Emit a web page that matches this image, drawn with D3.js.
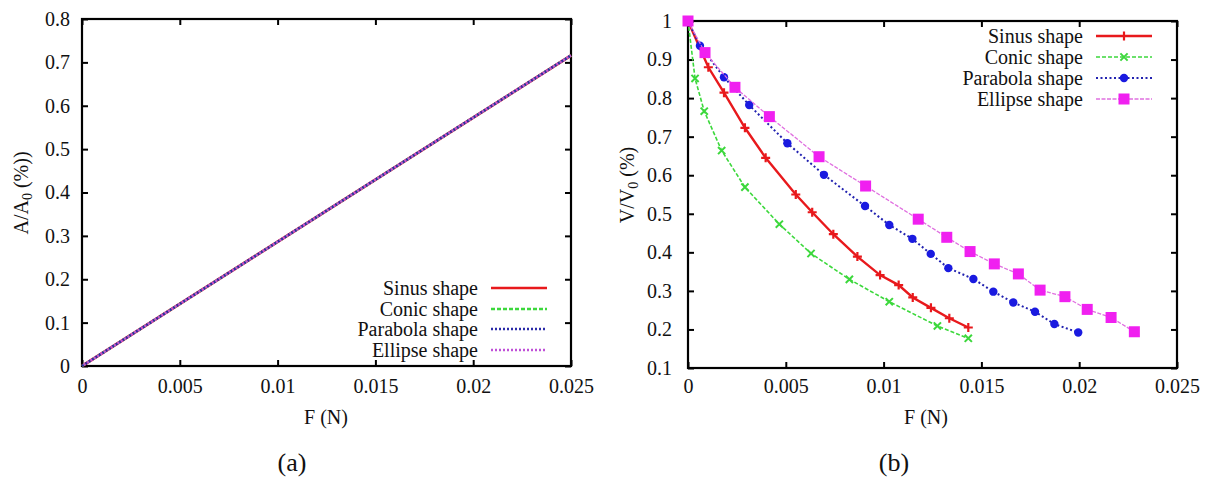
<!DOCTYPE html>
<html>
<head>
<meta charset="utf-8">
<script src="https://cdn.jsdelivr.net/npm/d3@7"></script>
<style>
  html, body { margin: 0; padding: 0; background: #fff; }
  svg, svg text { font-family: 'Liberation Serif', 'Times New Roman', Times, 'DejaVu Serif', serif !important; }
</style>
</head>
<body>
<svg id="fig" width="1205" height="489"></svg>
<script>
// ---- data ----------------------------------------------------------------
const seriesNames = ["Sinus shape", "Conic shape", "Parabola shape", "Ellipse shape"];

const forceTicks = [0, 0.005, 0.01, 0.015, 0.02, 0.025];
const forceTickLabels = ["0", "0.005", "0.01", "0.015", "0.02", "0.025"];

const areaTicks = [0, 0.1, 0.2, 0.3, 0.4, 0.5, 0.6, 0.7, 0.8];
const areaTickLabels = ["0", "0.1", "0.2", "0.3", "0.4", "0.5", "0.6", "0.7", "0.8"];

const volumeTicks = [0.1, 0.2, 0.3, 0.4, 0.5, 0.6, 0.7, 0.8, 0.9, 1.0];
const volumeTickLabels = ["0.1", "0.2", "0.3", "0.4", "0.5", "0.6", "0.7", "0.8", "0.9", "1"];

// (a) relative area A/A0 against force F: straight lines for all shapes
const areaForce  = [0, 0.025];
const areaSinus    = [0, 0.716];
const areaConic    = [0, 0.716];
const areaParabola = [0, 0.716];
const areaEllipse  = [0, 0.716];

// (b) relative volume V/V0 against force F
const sinusF = [0, 0.00104, 0.00184, 0.00291, 0.00397, 0.00551, 0.00635, 0.00743, 0.00866, 0.00982, 0.01077, 0.01149, 0.01242, 0.01336, 0.01433];
const sinusV = [1.0, 0.880, 0.814, 0.723, 0.645, 0.550, 0.504, 0.447, 0.389, 0.341, 0.315, 0.283, 0.256, 0.229, 0.205];

const conicF = [0, 0.00036, 0.00083, 0.00172, 0.00291, 0.00467, 0.00629, 0.00825, 0.01029, 0.01275, 0.01433];
const conicV = [1.0, 0.851, 0.766, 0.664, 0.569, 0.473, 0.397, 0.330, 0.272, 0.209, 0.177];

const parabolaF = [0, 0.00061, 0.00184, 0.00313, 0.00508, 0.00695, 0.00905, 0.01029, 0.01147, 0.01241, 0.01331, 0.01459, 0.01561, 0.01663, 0.01774, 0.01873, 0.01995];
const parabolaV = [1.0, 0.936, 0.854, 0.782, 0.683, 0.601, 0.520, 0.471, 0.435, 0.396, 0.359, 0.331, 0.298, 0.270, 0.246, 0.214, 0.192];

const ellipseF = [0, 0.00087, 0.0024, 0.00416, 0.0067, 0.00908, 0.01177, 0.01323, 0.01442, 0.01566, 0.01689, 0.018, 0.01927, 0.02041, 0.02163, 0.02282];
const ellipseV = [1.0, 0.918, 0.828, 0.752, 0.648, 0.572, 0.486, 0.439, 0.402, 0.370, 0.344, 0.302, 0.285, 0.252, 0.231, 0.194];

// ---- styles --------------------------------------------------------------
const styles = [
  { line: "#e8191c", width: 2.4, dash: null,      marker: "plus",   mcolor: "#e8191c" },
  { line: "#3cd83c", width: 1.6, dash: "4,2",     marker: "cross",  mcolor: "#3cd83c" },
  { line: "#2222b0", width: 2.0, dash: "2,2.5",   marker: "circle", mcolor: "#1a1ae0" },
  { line: "#e070e0", width: 1.3, dash: "4,1.5",   marker: "square", mcolor: "#f020f0" }
];
const leftStyles = [
  { line: "#e8191c", width: 3.0, dash: null },
  { line: "#3cd83c", width: 2.4, dash: "4,2" },
  { line: "#2a2aa8", width: 2.6, dash: "2,2" },
  { line: "#c050d8", width: 2.6, dash: "2,2", offset: 2 }
];

const svg = d3.select("#fig");
const FONT = 20;
const FAMILY = "'Liberation Serif', 'Times New Roman', Times, serif";

function zip(xs, ys) { return xs.map((x, i) => [x, ys[i]]); }

function frame(g, x, y, opts) {
  const [x0, x1] = x.range();
  const [y0, y1] = y.range();
  const tick = 6;

  const bottom = d3.axisBottom(x).tickValues(forceTicks)
    .tickFormat((d, i) => forceTickLabels[i])
    .tickSizeInner(-tick).tickSizeOuter(0).tickPadding(opts.xPad);
  const top = d3.axisTop(x).tickValues(forceTicks).tickFormat("")
    .tickSizeInner(-tick).tickSizeOuter(0);
  const left = d3.axisLeft(y).tickValues(opts.yTicks)
    .tickFormat((d, i) => opts.yLabels[i])
    .tickSizeInner(-tick).tickSizeOuter(0).tickPadding(opts.yPad);
  const right = d3.axisRight(y).tickValues(opts.yTicks).tickFormat("")
    .tickSizeInner(-tick).tickSizeOuter(0);

  const axes = [
    [bottom, `translate(0,${y0})`],
    [top, `translate(0,${y1})`],
    [left, `translate(${x0},0)`],
    [right, `translate(${x1},0)`]
  ];
  axes.forEach(([ax, tr]) => {
    const a = g.append("g").attr("transform", tr).call(ax)
      .attr("font-family", FAMILY).attr("font-size", FONT);
    a.select(".domain").remove();
    a.selectAll("line").attr("stroke", "#000").attr("stroke-width", 2);
    a.selectAll("text").attr("fill", "#111");
  });

  g.append("rect")
    .attr("x", x0).attr("y", y1)
    .attr("width", x1 - x0).attr("height", y0 - y1)
    .attr("fill", "none").attr("stroke", "#000").attr("stroke-width", 2.2);
}

function marker(g, kind, cx, cy, color) {
  if (kind === "plus") {
    const s = 4.5;
    g.append("path").attr("d", `M${cx - s},${cy}H${cx + s}M${cx},${cy - s}V${cy + s}`)
      .attr("stroke", color).attr("stroke-width", 2.2).attr("fill", "none");
  } else if (kind === "cross") {
    const s = 3.6;
    g.append("path").attr("d", `M${cx - s},${cy - s}L${cx + s},${cy + s}M${cx - s},${cy + s}L${cx + s},${cy - s}`)
      .attr("stroke", color).attr("stroke-width", 2).attr("fill", "none");
  } else if (kind === "circle") {
    g.append("circle").attr("cx", cx).attr("cy", cy).attr("r", 4.2).attr("fill", color);
  } else if (kind === "square") {
    const s = 5.5;
    g.append("rect").attr("x", cx - s).attr("y", cy - s).attr("width", 2 * s).attr("height", 2 * s)
      .attr("fill", color);
  }
}

function txt(g) {
  return g.append("text").attr("font-family", FAMILY).attr("fill", "#111");
}

function legendRow(g, name, st, xText, yRow, x0, x1, withMarker) {
  txt(g).attr("x", xText).attr("y", yRow).attr("dy", "0.33em")
    .attr("text-anchor", "end").attr("font-size", FONT).text(name);
  g.append("line").attr("x1", x0).attr("x2", x1).attr("y1", yRow).attr("y2", yRow)
    .attr("stroke", st.line).attr("stroke-width", Math.min(st.width, 2.4))
    .attr("stroke-dasharray", st.dash);
  if (withMarker) marker(g, st.marker, (x0 + x1) / 2, yRow, st.mcolor);
}

// ---- panel (a) -----------------------------------------------------------
{
  const g = svg.append("g");
  const x = d3.scaleLinear().domain([0, 0.025]).range([82, 571]);
  const y = d3.scaleLinear().domain([0, 0.8]).range([366, 19]);
  frame(g, x, y, { yTicks: areaTicks, yLabels: areaTickLabels, xPad: 13, yPad: 12 });

  const line = d3.line().x(d => x(d[0])).y(d => y(d[1]));
  const series = [areaSinus, areaConic, areaParabola, areaEllipse];
  series.forEach((vals, i) => {
    const st = leftStyles[i];
    g.append("path").datum(zip(areaForce, vals)).attr("d", line)
      .attr("fill", "none").attr("stroke", st.line).attr("stroke-width", st.width)
      .attr("stroke-dasharray", st.dash).attr("stroke-dashoffset", st.offset || 0);
  });

  const rows = [288, 309, 329, 350];
  seriesNames.forEach((n, i) => legendRow(g, n, leftStyles[i], 478, rows[i], 491, 547, false));

  txt(g).attr("x", 326).attr("y", 424).attr("text-anchor", "middle")
    .attr("font-size", FONT).text("F (N)");

  const yl = txt(g).attr("transform", "translate(28,193) rotate(-90)")
    .attr("text-anchor", "middle").attr("font-size", FONT);
  yl.append("tspan").text("A/A");
  yl.append("tspan").attr("font-size", 14).attr("dy", 4).text("0");
  yl.append("tspan").attr("dy", -4).text(" (%))");

  txt(g).attr("x", 292).attr("y", 471).attr("text-anchor", "middle")
    .attr("font-size", 26).text("(a)");
}

// ---- panel (b) -----------------------------------------------------------
{
  const g = svg.append("g");
  const x = d3.scaleLinear().domain([0, 0.025]).range([688, 1177]);
  const y = d3.scaleLinear().domain([0.1, 1.0]).range([368, 21]);
  frame(g, x, y, { yTicks: volumeTicks, yLabels: volumeTickLabels, xPad: 11, yPad: 16 });

  const line = d3.line().x(d => x(d[0])).y(d => y(d[1]));
  const series = [zip(sinusF, sinusV), zip(conicF, conicV), zip(parabolaF, parabolaV), zip(ellipseF, ellipseV)];
  series.forEach((pts, i) => {
    const st = styles[i];
    g.append("path").datum(pts).attr("d", line)
      .attr("fill", "none").attr("stroke", st.line).attr("stroke-width", st.width)
      .attr("stroke-dasharray", st.dash);
    pts.forEach(p => marker(g, st.marker, x(p[0]), y(p[1]), st.mcolor));
  });

  const rows = [36, 57, 78, 99];
  seriesNames.forEach((n, i) => legendRow(g, n, styles[i], 1083, rows[i], 1096, 1152, true));

  txt(g).attr("x", 926).attr("y", 424).attr("text-anchor", "middle")
    .attr("font-size", FONT).text("F (N)");

  const yl = txt(g).attr("transform", "translate(634,185) rotate(-90)")
    .attr("text-anchor", "middle").attr("font-size", FONT);
  yl.append("tspan").text("V/V");
  yl.append("tspan").attr("font-size", 14).attr("dy", 4).text("0");
  yl.append("tspan").attr("dy", -4).text(" (%)");

  txt(g).attr("x", 894).attr("y", 471).attr("text-anchor", "middle")
    .attr("font-size", 26).text("(b)");
}
</script>
</body>
</html>
